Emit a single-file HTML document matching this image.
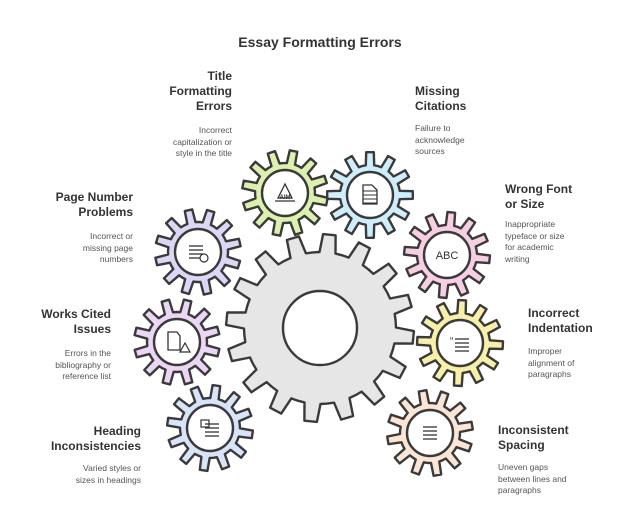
<!DOCTYPE html>
<html><head><meta charset="utf-8"><style>
body{margin:0;width:640px;height:527px;background:#fff;overflow:hidden;position:relative;font-family:"Liberation Sans",sans-serif;color:#333}
.t{position:absolute;font-weight:bold;font-size:12px;line-height:15px;color:#333}
.d{position:absolute;font-size:8.5px;line-height:11.5px;color:#555}
.r{text-align:right}
</style></head><body>
<svg id="s" width="640" height="527" style="position:absolute;left:0;top:0"></svg>
<div class="t" style="left:0;width:640px;text-align:center;top:35px;font-size:14px">Essay Formatting Errors</div>

<div class="t r" style="right:408px;top:69px">Title<br>Formatting<br>Errors</div>
<div class="d r" style="right:408px;top:125px">Incorrect<br>capitalization or<br>style in the title</div>

<div class="t r" style="right:507px;top:190px">Page Number<br>Problems</div>
<div class="d r" style="right:507px;top:231px">Incorrect or<br>missing page<br>numbers</div>

<div class="t r" style="right:529px;top:307px">Works Cited<br>Issues</div>
<div class="d r" style="right:529px;top:348px">Errors in the<br>bibliography or<br>reference list</div>

<div class="t r" style="right:499px;top:424px">Heading<br>Inconsistencies</div>
<div class="d r" style="right:499px;top:463px">Varied styles or<br>sizes in headings</div>

<div class="t" style="left:415px;top:84px">Missing<br>Citations</div>
<div class="d" style="left:415px;top:123px">Failure to<br>acknowledge<br>sources</div>

<div class="t" style="left:505px;top:182px">Wrong Font<br>or Size</div>
<div class="d" style="left:505px;top:219px">Inappropriate<br>typeface or size<br>for academic<br>writing</div>

<div class="t" style="left:528px;top:306px">Incorrect<br>Indentation</div>
<div class="d" style="left:528px;top:346px">Improper<br>alignment of<br>paragraphs</div>

<div class="t" style="left:498px;top:423px">Inconsistent<br>Spacing</div>
<div class="d" style="left:498px;top:462px">Uneven gaps<br>between lines and<br>paragraphs</div>

<script>
var s=document.getElementById('s'),NS='http://www.w3.org/2000/svg';
function gear(cx,cy,R,r,n,ir,fill,rot,label){
 var p=[],step=2*Math.PI/n;
 for(var i=0;i<n;i++){var a=i*step+rot;
  var pts=[[r,a-step*0.5],[r,a-step*0.27],[R,a-step*0.17],[R,a+step*0.17],[r,a+step*0.27]];
  pts.forEach(function(q){p.push((cx+q[0]*Math.cos(q[1])).toFixed(1)+','+(cy+q[0]*Math.sin(q[1])).toFixed(1))});}
 var g=document.createElementNS(NS,'g');
 g.innerHTML='<path d="M'+p.join('L')+'Z" fill="'+fill+'" stroke="#3a3a3a" stroke-width="2.4" stroke-linejoin="round"/>'+
 '<circle cx="'+cx+'" cy="'+cy+'" r="'+ir+'" fill="#fff" stroke="#3a3a3a" stroke-width="2.4"/>'+(label||'');
 s.appendChild(g);}
function lines(cx,cy){var o='';for(var i=0;i<4;i++)o+='<line x1="'+(cx-7)+'" x2="'+(cx+7)+'" y1="'+(cy-6+i*4)+'" y2="'+(cy-6+i*4)+'" stroke="#333" stroke-width="1.3"/>';return o;}
gear(320,328,94,76,16,37,'#e6e6e6',0.1,'');
gear(285,193,43,30,12,23,'#dcf0b0',0.2,'<path d="M275 201h20M278 198l7-14 7 14z" fill="none" stroke="#333" stroke-width="1.3"/><text x="285" y="199" font-size="6" text-anchor="middle" font-weight="bold" fill="#333">AIM</text>');
gear(370,195,43,30,12,23,'#cfeefb',0.0,'<path d="M363 185h9l5 5v14h-14z" fill="none" stroke="#333" stroke-width="1.3"/>'+lines(370,197).replace(/stroke-width="1.3"/g,'stroke-width="1"'));
gear(198,252,43,30,12,23,'#ddd6f5',0.3,lines(196,252)+'<circle cx="204" cy="258" r="4" fill="#fff" stroke="#333" stroke-width="1.2"/>');
gear(447,255,43,30,12,23,'#f7cfe4',0.1,'<text x="447" y="259" font-size="11" text-anchor="middle" fill="#333" font-family="Liberation Sans">ABC</text>');
gear(177,342,43,30,12,23,'#ebd6f5',0.25,'<path d="M168 332h9l3 4v14h-12z" fill="none" stroke="#333" stroke-width="1.3"/><path d="M180 352l5-9 5 9z" fill="#fff" stroke="#333" stroke-width="1.2"/>');
gear(460,343,43,30,12,23,'#f8f0a8',0.05,'<text x="450" y="344" font-size="10" fill="#333">“</text>'+lines(462,345));
gear(210,428,43,30,12,23,'#d8e4f8',0.15,'<rect x="201" y="420" width="8" height="7" fill="none" stroke="#333" stroke-width="1.2"/>'+lines(212,430));
gear(430,433,43,30,12,23,'#fbe6d6',0.35,lines(430,433));
</script>
</body></html>
